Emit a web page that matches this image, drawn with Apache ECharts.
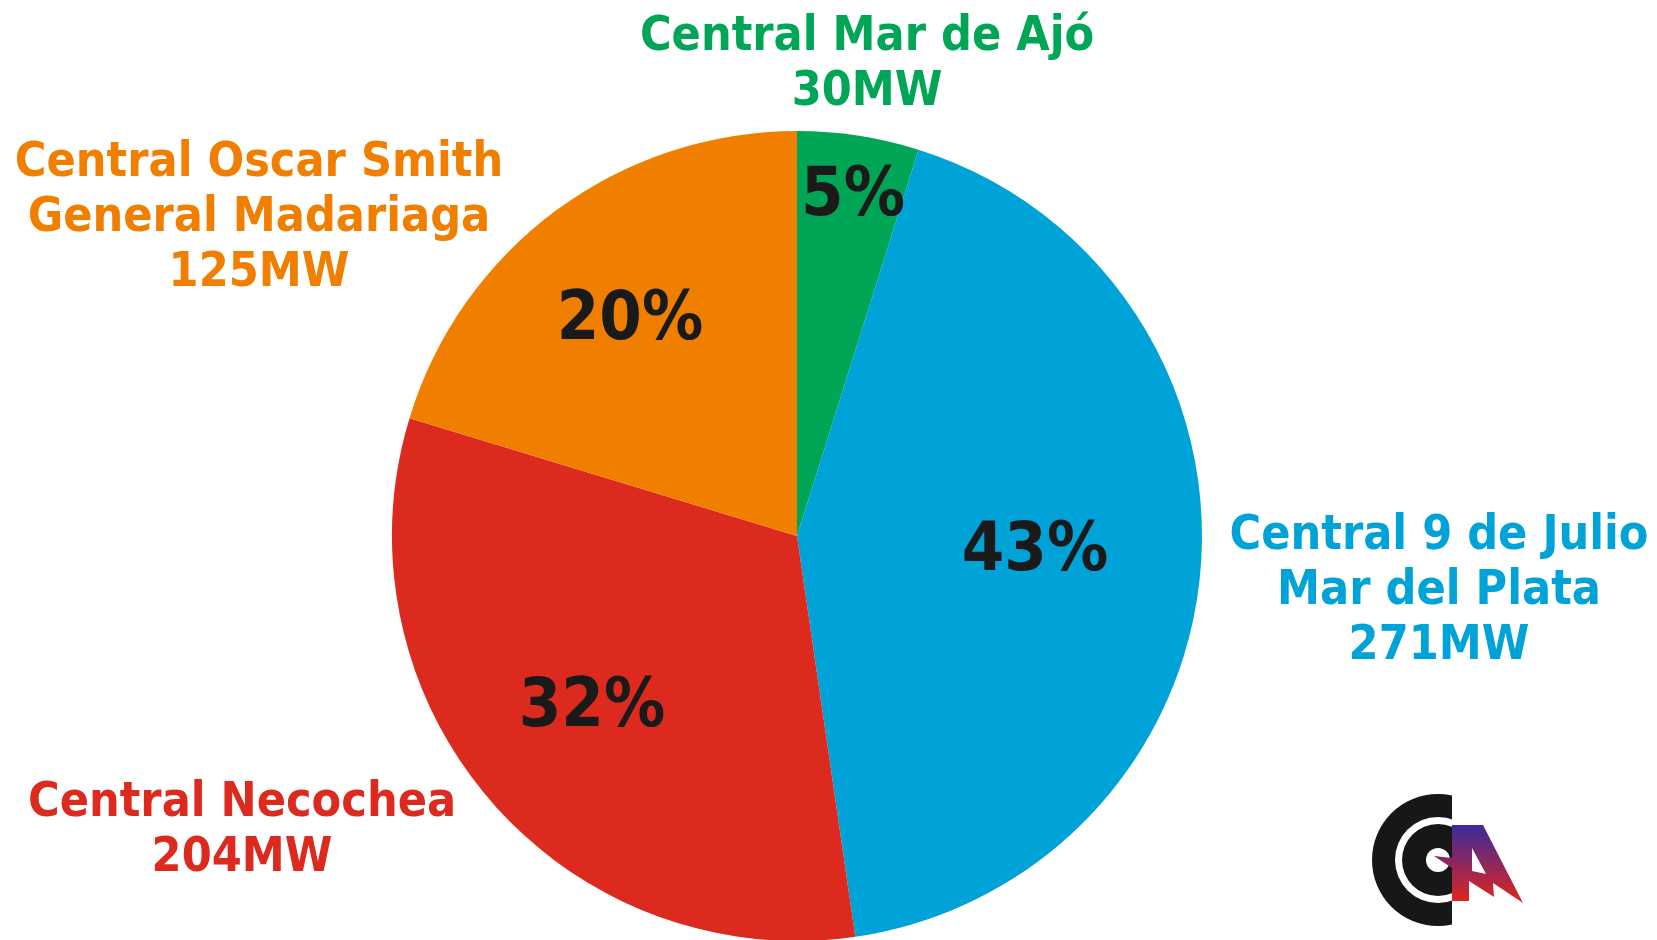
<!DOCTYPE html>
<html>
<head>
<meta charset="utf-8">
<script src="https://cdn.jsdelivr.net/npm/echarts@6/dist/echarts.min.js"></script>
<style>
html,body{margin:0;padding:0;background:#fff;}
#chart{width:1657px;height:940px;}
</style>
</head>
<body>
<div id="chart"></div>
<script>
// ---- data ----
var plantNames = ['Central Mar de Ajó', 'Central 9 de Julio\nMar del Plata', 'Central Necochea', 'Central Oscar Smith\nGeneral Madariaga'];
var capacityMW = [30, 271, 204, 125];
var sharePct = [4.85, 42.85, 32.0, 20.3];   // slice shares as drawn in the picture
var unit = 'MW';

// ---- styles / layout (not data) ----
var sliceColors = ['#00A556', '#00A3D7', '#DC2B1E', '#F07F00'];
var pieCenter = [797, 536];
var pieRadius = 405;
var pctLabelPos = [[853, 197], [1035, 552], [592, 708], [630, 321]];
var outerLabelPos = [[867, 65], [1439, 592], [242, 831], [259, 219]];
var fontFam = '"DejaVu Sans Condensed", "DejaVu Sans", sans-serif';

var pieData = plantNames.map(function (n, i) {
  return { name: n, value: sharePct[i], mw: capacityMW[i], itemStyle: { color: sliceColors[i] } };
});
var labelData = plantNames.map(function (n, i) {
  return { name: n, value: sharePct[i], mw: capacityMW[i], label: { color: sliceColors[i] } };
});

var chart = echarts.init(document.getElementById('chart'), null, { renderer: 'canvas' });

var black = '#161817';
var option = {
  backgroundColor: '#ffffff',
  animation: false,
  series: [
    {
      type: 'pie',
      center: pieCenter,
      radius: pieRadius,
      startAngle: 90,
      clockwise: true,
      data: pieData,
      itemStyle: { borderWidth: 0 },
      label: {
        show: true,
        position: 'inside',
        formatter: function (p) { return Math.round(p.value) + '%'; },
        fontFamily: fontFam,
        fontWeight: 'bold',
        fontSize: 68,
        color: '#1A1A1A'
      },
      labelLine: { show: false },
      labelLayout: function (p) {
        var pos = pctLabelPos[p.dataIndex];
        return { x: pos[0], y: pos[1], align: 'center', verticalAlign: 'middle' };
      },
      emphasis: { disabled: true }
    },
    {
      type: 'pie',
      center: pieCenter,
      radius: pieRadius,
      startAngle: 90,
      clockwise: true,
      silent: true,
      data: labelData,
      itemStyle: { color: 'rgba(0,0,0,0)' },
      label: {
        show: true,
        position: 'inside',
        overflow: 'none',
        formatter: function (p) { return p.name + '\n' + p.data.mw + unit; },
        fontFamily: fontFam,
        fontWeight: 'bold',
        fontSize: 48,
        lineHeight: 55,
        align: 'center'
      },
      labelLine: { show: false },
      labelLayout: function (p) {
        var pos = outerLabelPos[p.dataIndex];
        return { x: pos[0], y: pos[1], align: 'center', verticalAlign: 'middle' };
      },
      emphasis: { disabled: true }
    }
  ],
  graphic: [
    // logo: concentric C
    { type: 'circle', shape: { cx: 1438, cy: 860, r: 66 }, style: { fill: black }, z: 10 },
    { type: 'circle', shape: { cx: 1438, cy: 860, r: 43 }, style: { fill: '#fff' }, z: 11 },
    { type: 'circle', shape: { cx: 1438, cy: 860, r: 36 }, style: { fill: black }, z: 12 },
    { type: 'circle', shape: { cx: 1438, cy: 860, r: 12 }, style: { fill: '#fff' }, z: 13 },
    { type: 'rect', shape: { x: 1452, y: 790, width: 80, height: 140 }, style: { fill: '#fff' }, z: 14 },
    {
      type: 'polygon', z: 15,
      shape: { points: [[1452, 825], [1483, 825], [1523, 903], [1493, 883], [1494, 897], [1469, 881], [1469, 901], [1452, 901], [1452, 868], [1434, 856], [1452, 858]] },
      style: {
        fill: { type: 'linear', x: 0, y: 0, x2: 0, y2: 1, colorStops: [{ offset: 0, color: '#3A2A9C' }, { offset: 1, color: '#E2261C' }] }
      }
    },
    { type: 'polygon', z: 16, shape: { points: [[1472, 848], [1472, 871], [1486, 874]] }, style: { fill: '#fff' } }
  ]
};
chart.setOption(option);
</script>
</body>
</html>
